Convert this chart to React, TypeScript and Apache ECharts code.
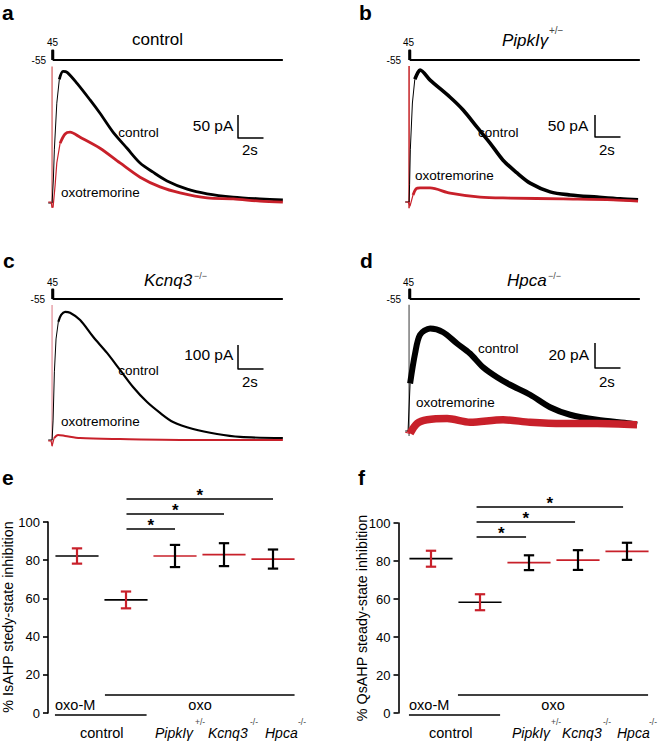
import React, { useEffect, useRef } from "react";
import * as echarts from "echarts";

const FONT = "'Liberation Sans', Arial, Helvetica, sans-serif";
const RED = "#c8202a";
const BLACK = "#000000";

// ---------------- data: current traces [time (s), current (pA)] ----------------
const aControl: [number, number][] = [
  [-0.3, 0], [0, 0], [0.1, 50], [0.18, 117], [0.37, 217], [0.57, 269], [0.86, 286], [1.18, 284],
  [1.96, 260], [2.98, 224], [3.76, 195], [4.78, 154], [5.88, 119], [6.9, 87], [7.92, 67],
  [9.02, 48], [10.6, 30], [12.16, 20], [14.2, 13], [16.3, 9], [18.1, 6.5],
];
const aOxo: [number, number][] = [
  [-0.3, 2], [-0.08, 2], [0, -9], [0.08, -9], [0.24, 39], [0.37, 87], [0.63, 130], [1.02, 150],
  [1.41, 154], [2.2, 143], [3.76, 119], [5.33, 87], [6.9, 56], [8.47, 35], [10.04, 22],
  [12.16, 11], [14.2, 9], [16.3, 4], [18.1, 2],
];
const aTransient: [number, number] = [-11, 297];

const bControl: [number, number][] = [
  [-0.3, 0], [0, 0], [0.04, 39], [0.1, 120], [0.26, 225], [0.45, 279], [0.71, 295], [0.86, 300],
  [1.65, 277], [3.22, 238], [4.24, 209], [5.33, 170], [6.35, 134], [7.37, 95], [8.47, 66],
  [9.49, 43], [11.06, 23], [12.63, 16], [14.75, 11], [16.55, 7], [17.96, 5],
];
const bOxo: [number, number][] = [
  [-0.3, 0], [-0.08, 0], [0.08, -9], [0.31, 16], [0.55, 30], [0.86, 32], [1.65, 32], [3.22, 20],
  [5.57, 11], [7.92, 9], [12.08, 7], [16, 5], [17.96, 2],
];
const bTransient: [number, number] = [-14, 309];

const cControl: [number, number][] = [
  [-0.3, 0], [0, 0], [0.08, 83], [0.18, 284], [0.31, 421], [0.49, 492], [0.71, 521], [1.02, 534],
  [1.41, 530], [2.2, 500], [3.22, 430], [4.31, 363], [5.33, 292], [6.35, 221], [7.45, 158],
  [8.47, 113], [9.49, 75], [11.06, 46], [12.94, 25], [14.75, 13], [18.1, 8],
];
const cOxo: [number, number][] = [
  [-0.3, -4], [-0.08, -4], [0, -25], [0.16, 8], [0.47, 21], [1.02, 17], [2.2, 8], [5.33, 4],
  [11.6, 0], [18.1, 0],
];
const cTransient: [number, number] = [-25, 563];

const dControl: [number, number][] = [
  [-0.3, 0], [-0.08, 0], [0.08, 38], [0.47, 62], [0.86, 77], [1.65, 82], [2.67, 79], [3.76, 70],
  [4.78, 62], [5.8, 51], [6.9, 43], [7.92, 37], [9.49, 29], [11.06, 19], [12.63, 13],
  [14.75, 9], [17.33, 6], [17.88, 5],
];
const dOxo: [number, number][] = [
  [-0.3, -1], [0.08, -2], [0.63, 6], [1.41, 9], [2.98, 10], [4.78, 7], [7.37, 9], [9.49, 7],
  [12.08, 6], [14.75, 6], [17.88, 5],
];
const dTransient: [number, number] = [-4, 101];

// voltage protocol (mV, s)
const holdMv = -55;
const stepMv = 45;
const stepDur = 0.1;
const sweepEnd = 18.1;

// scale bars
const scaleSec = 2;
const scalePa = [50, 50, 100, 20];

// ---------------- data: steady-state inhibition (%) ----------------
const groupNames = ["control oxo-M", "control oxo", "PipkIγ+/−", "Kcnq3−/−", "Hpca−/−"];
const eMean = [82.2, 59.2, 82.2, 82.9, 80.6];
const eSem = [4.0, 4.4, 5.8, 6.0, 5.0];
const fMean = [81.2, 58.3, 79.1, 80.5, 85.1];
const fSem = [4.2, 4.2, 3.9, 5.2, 4.5];
const yMax = 100;
const yInterval = 20;

// ---------------- layout ----------------
const PX_PER_S = 12.75;
const T_MIN = -0.32;

const tracePanels = [
  { left: 48, protoTop: 50.5, protoH: 9.5, top: 62, bottom: 212, baseY: 203, k: 50 / 23, ctrl: aControl, oxo: aOxo, tr: aTransient, trColor: "rgba(205,70,70,0.65)", ctrlW: 2.8, oxoW: 2.8, ctrlThick: 0.5, oxoThick: 0.55, barPx: [238, 138], bar: scalePa[0] },
  { left: 405, protoTop: 50.5, protoH: 9.5, top: 62, bottom: 212, baseY: 202, k: 50 / 22, ctrl: bControl, oxo: bOxo, tr: bTransient, trColor: "#cc3b3f", ctrlW: 3.6, oxoW: 2.8, ctrlThick: 0.4, oxoThick: 0.3, barPx: [595, 137], bar: scalePa[1] },
  { left: 48, protoTop: 289.5, protoH: 9.5, top: 301, bottom: 450, baseY: 440, k: 100 / 24, ctrl: cControl, oxo: cOxo, tr: cTransient, trColor: "rgba(220,120,130,0.6)", ctrlW: 2.2, oxoW: 2.0, ctrlThick: 0.45, oxoThick: 0.1, barPx: [238, 369], bar: scalePa[2] },
  { left: 405, protoTop: 289.5, protoH: 9.5, top: 301, bottom: 450, baseY: 431, k: 20 / 25, ctrl: dControl, oxo: dOxo, tr: dTransient, trColor: "#8a8a8a", ctrlW: 6, oxoW: 7.5, ctrlThick: 0.05, oxoThick: 0.05, barPx: [595, 368], bar: scalePa[3] },
];

const statPanels = [
  { left: 52.5, top: 522, height: 191, offset: 4.5, mean: eMean, sem: eSem,
    sig: [[1.01, 2.0, 96.3], [1.01, 3.0, 104.2], [1.01, 4.0, 112.0]],
    oxoLine: [0.57, 4.44, 9.4], ctrlLine: [-0.45, 1.42, -1.05] },
  { left: 406.5, top: 523, height: 190, offset: 8, mean: fMean, sem: fSem,
    sig: [[0.93, 1.94, 92.6], [0.93, 2.94, 100.5], [0.93, 3.92, 108.4]],
    oxoLine: [0.55, 4.43, 9.47], ctrlLine: [-0.45, 1.41, -1.05] },
];

type LOpt = { bold?: boolean; italic?: boolean; align?: string; fill?: string; rot?: number };
const L = (x: number, y: number, text: string, size: number, o: LOpt = {}) => ({
  type: "text",
  x,
  y,
  rotation: o.rot || 0,
  silent: true,
  style: {
    text,
    fontSize: size,
    fontFamily: FONT,
    fontWeight: o.bold ? "bold" : "normal",
    fontStyle: o.italic ? "italic" : "normal",
    fill: o.fill || "#000",
    align: o.align || "left",
    verticalAlign: "middle",
  },
});

const SUP = "#444";
const labels = [
  L(2, 12.7, "a", 21, { bold: true }), L(359, 12.7, "b", 21, { bold: true }),
  L(3, 260.7, "c", 21, { bold: true }), L(360, 260.7, "d", 21, { bold: true }),
  L(2, 477.7, "e", 21, { bold: true }), L(358, 477.7, "f", 21, { bold: true }),
  // protocol
  L(47, 42, "45", 10), L(46, 60, "-55", 10, { align: "right" }),
  L(403, 42, "45", 10), L(401, 60, "-55", 10, { align: "right" }),
  L(47, 282.2, "45", 10), L(45, 299.8, "-55", 10, { align: "right" }),
  L(403, 282.2, "45", 10), L(401, 299.8, "-55", 10, { align: "right" }),
  // titles
  L(132, 39.8, "control", 17),
  L(502, 40, "PipkIγ", 17, { italic: true }), L(549, 30, "+/−", 10, { fill: SUP }),
  L(144, 280.8, "Kcnq3", 17, { italic: true }), L(194, 276, "−/−", 9, { fill: SUP }),
  L(507, 280.8, "Hpca", 17, { italic: true }), L(548, 276, "−/−", 9, { fill: SUP }),
  // trace labels & scale bars
  L(118.3, 132.6, "control", 13.5), L(61, 192, "oxotremorine", 13.5),
  L(233.3, 125.3, "50 pA", 15.5, { align: "right" }), L(242, 149.8, "2s", 15),
  L(478, 132.6, "control", 13.5), L(415, 175.3, "oxotremorine", 13.5),
  L(588.3, 125.3, "50 pA", 15.5, { align: "right" }), L(599, 149.8, "2s", 15),
  L(118.3, 370.3, "control", 13.5), L(61, 421.3, "oxotremorine", 13.5),
  L(233.3, 354.7, "100 pA", 15.5, { align: "right" }), L(242, 381.5, "2s", 15),
  L(478, 348, "control", 13.5), L(416, 402, "oxotremorine", 13.5),
  L(589, 354.7, "20 pA", 15.5, { align: "right" }), L(599, 381.5, "2s", 15),
  // panel e
  L(8, 617, "% IsAHP stedy-state inhibition", 14.3, { rot: Math.PI / 2, align: "center" }),
  L(55, 704.9, "oxo-M", 14.5), L(200, 704.9, "oxo", 14.5, { align: "center" }),
  L(80, 732.6, "control", 14.5),
  L(155, 732.6, "PipkIγ", 14, { italic: true }), L(195, 722, "+/-", 8.5, { fill: SUP }),
  L(208, 732.6, "Kcnq3", 14, { italic: true }), L(250, 722, "-/-", 8.5, { fill: SUP }),
  L(265, 732.6, "Hpca", 14, { italic: true }), L(298, 722, "-/-", 8.5, { fill: SUP }),
  // panel f
  L(362, 618, "% QsAHP steady-state inhibition", 14.3, { rot: Math.PI / 2, align: "center" }),
  L(409, 704.9, "oxo-M", 14.5), L(553, 704.9, "oxo", 14.5, { align: "center" }),
  L(429, 732.6, "control", 14.5),
  L(512, 732.6, "PipkIγ", 14, { italic: true }), L(551, 722, "+/-", 8.5, { fill: SUP }),
  L(562, 732.6, "Kcnq3", 14, { italic: true }), L(603, 722, "-/-", 8.5, { fill: SUP }),
  L(617, 732.6, "Hpca", 14, { italic: true }), L(649, 722, "-/-", 8.5, { fill: SUP }),
];

function lineS(gi: number, data: number[][], color: string, width: number, z: number, smooth: number | boolean = false) {
  return {
    type: "line",
    xAxisIndex: gi,
    yAxisIndex: gi,
    data,
    symbol: "none",
    showSymbol: false,
    clip: false,
    silent: true,
    smooth,
    z,
    lineStyle: { color, width, join: "round", cap: "butt" },
  };
}

const errRender = (params: any, api: any) => {
  const i = api.value(0);
  const m = api.value(1);
  const e = api.value(2);
  const c = api.coord([i, m]);
  const r = api.coord([i + 0.44, m]);
  const hw = r[0] - c[0];
  const top = api.coord([i, m + e]);
  const bot = api.coord([i, m - e]);
  const cap = hw * 0.24;
  const ctrl = params.dataIndex < 2;
  const mc = ctrl ? BLACK : RED;
  const bc = ctrl ? RED : BLACK;
  return {
    type: "group",
    children: [
      { type: "line", shape: { x1: c[0] - hw, y1: c[1], x2: c[0] + hw, y2: c[1] }, style: { stroke: mc, lineWidth: 1.7 } },
      { type: "line", shape: { x1: c[0], y1: top[1], x2: c[0], y2: bot[1] }, style: { stroke: bc, lineWidth: 2.2 } },
      { type: "line", shape: { x1: c[0] - cap, y1: top[1], x2: c[0] + cap, y2: top[1] }, style: { stroke: bc, lineWidth: 2.2 } },
      { type: "line", shape: { x1: c[0] - cap, y1: bot[1], x2: c[0] + cap, y2: bot[1] }, style: { stroke: bc, lineWidth: 2.2 } },
    ],
  };
};

const sigRender = (_p: any, api: any) => {
  const a = api.coord([api.value(0), api.value(2)]);
  const b = api.coord([api.value(1), api.value(2)]);
  return {
    type: "group",
    children: [
      { type: "line", shape: { x1: a[0], y1: a[1], x2: b[0], y2: b[1] }, style: { stroke: BLACK, lineWidth: 1.5 } },
      {
        type: "text",
        x: (a[0] + b[0]) / 2,
        y: a[1] - 3.5,
        style: { text: "*", fontSize: 17, fontWeight: "bold", fontFamily: FONT, fill: BLACK, align: "center", verticalAlign: "middle" },
      },
    ],
  };
};

function buildOption(): any {
  const grid: any[] = [];
  const xAxis: any[] = [];
  const yAxis: any[] = [];
  const series: any[] = [];
  const add = (g: any, xa: any, ya: any) => {
    grid.push(g);
    const gi = grid.length - 1;
    xAxis.push({ ...xa, gridIndex: gi });
    yAxis.push({ ...ya, gridIndex: gi });
    return gi;
  };
  const traceWidth = (sweepEnd - T_MIN) * PX_PER_S;

  for (const p of tracePanels) {
    const pg = add(
      { left: p.left, top: p.protoTop, width: traceWidth, height: p.protoH },
      { type: "value", min: T_MIN, max: sweepEnd, show: false },
      { type: "value", min: holdMv, max: stepMv, show: false }
    );
    series.push(lineS(pg, [[0, holdMv], [0, stepMv], [stepDur, stepMv], [stepDur, holdMv], [sweepEnd, holdMv]], BLACK, 1.8, 1));

    const tg = add(
      { left: p.left, top: p.top, width: traceWidth, height: p.bottom - p.top },
      { type: "value", min: T_MIN, max: sweepEnd, show: false },
      { type: "value", min: -(p.bottom - p.baseY) * p.k, max: (p.baseY - p.top) * p.k, show: false }
    );
    series.push(lineS(tg, [[0, p.tr[0]], [0, p.tr[1]]], p.trColor, 1.7, 1));

    const cThick = p.ctrl.filter((d) => d[0] >= p.ctrlThick);
    const cThin = p.ctrl.filter((d) => d[0] <= cThick[0][0]);
    series.push(lineS(tg, cThin, BLACK, 1, 2));
    series.push(lineS(tg, cThick, BLACK, p.ctrlW, 2, 0.3));

    const oThick = p.oxo.filter((d) => d[0] >= p.oxoThick);
    const oThin = p.oxo.filter((d) => d[0] <= oThick[0][0]);
    series.push(lineS(tg, oThin, RED, 1.2, 3));
    series.push(lineS(tg, oThick, RED, p.oxoW, 3, 0.3));

    const bt = T_MIN + (p.barPx[0] - p.left) / PX_PER_S;
    const bi = (p.baseY - p.barPx[1]) * p.k;
    series.push(lineS(tg, [[bt, bi + p.bar], [bt, bi], [bt + scaleSec, bi]], BLACK, 1.5, 4));
  }

  for (const s of statPanels) {
    const g = add(
      { left: s.left, top: s.top, width: groupNames.length * 49, height: s.height },
      { type: "value", min: -0.5, max: groupNames.length - 0.5, show: false },
      {
        type: "value",
        min: 0,
        max: yMax,
        interval: yInterval,
        offset: s.offset,
        axisLine: { show: true, onZero: false, lineStyle: { color: BLACK, width: 1.6 } },
        axisTick: { show: true, inside: false, length: 5, lineStyle: { color: BLACK, width: 1.6 } },
        axisLabel: { color: BLACK, fontSize: 13, fontFamily: FONT, margin: 8 },
        splitLine: { show: false },
      }
    );
    series.push({
      type: "custom",
      xAxisIndex: g,
      yAxisIndex: g,
      clip: false,
      silent: true,
      encode: { x: 0, y: 1 },
      data: s.mean.map((m, i) => [i, m, s.sem[i]]),
      renderItem: errRender,
      z: 3,
    });
    series.push({
      type: "custom",
      xAxisIndex: g,
      yAxisIndex: g,
      clip: false,
      silent: true,
      encode: { x: [0, 1], y: 2 },
      data: s.sig,
      renderItem: sigRender,
      z: 3,
    });
    series.push(lineS(g, [[s.oxoLine[0], s.oxoLine[2]], [s.oxoLine[1], s.oxoLine[2]]], BLACK, 1.5, 2));
    series.push(lineS(g, [[s.ctrlLine[0], s.ctrlLine[2]], [s.ctrlLine[1], s.ctrlLine[2]]], BLACK, 1.5, 2));
  }

  return {
    animation: false,
    backgroundColor: "#ffffff",
    textStyle: { fontFamily: FONT },
    grid,
    xAxis,
    yAxis,
    series,
    graphic: labels,
  };
}

export default function App() {
  const ref = useRef<HTMLDivElement>(null);
  useEffect(() => {
    document.body.style.margin = "0";
    if (!ref.current) return;
    const chart = echarts.init(ref.current, null, { renderer: "svg", width: 660, height: 742 });
    chart.setOption(buildOption());
    return () => chart.dispose();
  }, []);
  return <div ref={ref} style={{ width: 660, height: 742 }} />;
}
